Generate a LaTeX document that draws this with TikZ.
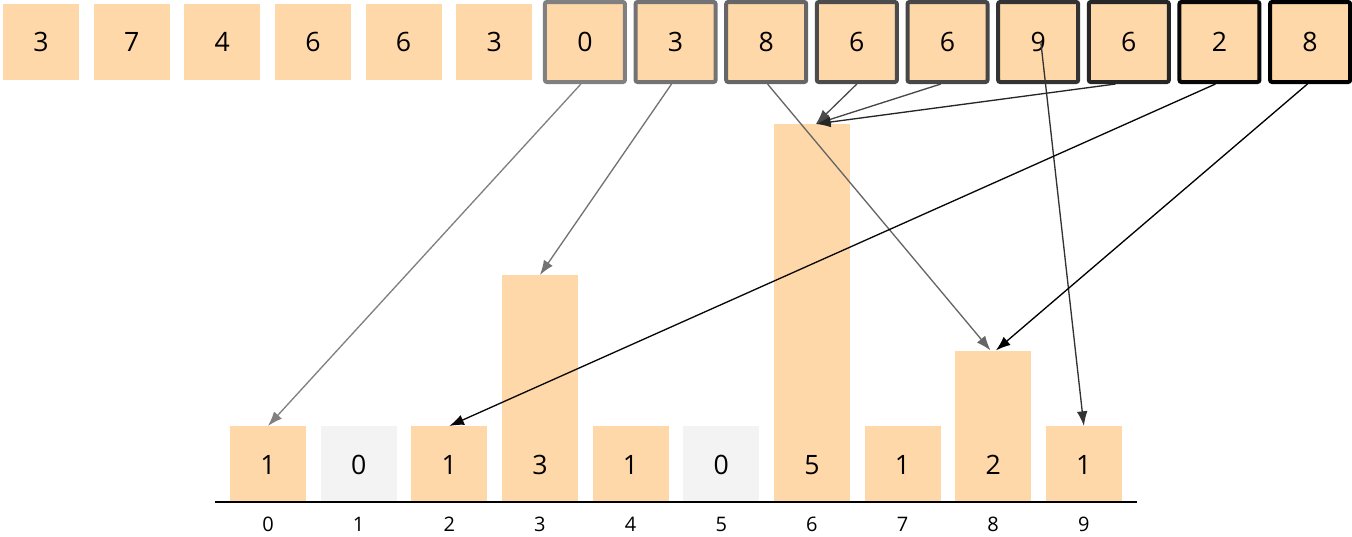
\documentclass[tikz,border=0pt]{standalone}
\usepackage{fontspec}
\setmainfont{Open Sans}
\usetikzlibrary{arrows.meta}
\definecolor{peach}{HTML}{FFD8AA}
\definecolor{empty}{HTML}{F3F3F3}
\begin{document}
\begin{tikzpicture}
        [x=0.75pt, y=-0.75pt,
        cell/.style={fill=peach, minimum width=57pt, minimum height=57pt, inner sep=0pt, font=\fontsize{20}{22}\selectfont},
        marked/.style={cell, draw=#1, line width=3pt, rounded corners=1.5pt, minimum width=60pt, minimum height=60pt},
        bar/.style={fill=#1, minimum width=57pt, inner sep=0pt, anchor=south},
        count/.style={font=\fontsize{20}{22}\selectfont},
        tick/.style={font=\fontsize{15}{17}\selectfont},
        link/.style={draw=#1, line width=1pt, -{Latex[length=11pt, width=8pt]}}]

        \useasboundingbox (0,0) rectangle (1352,536);

        % input row, unmarked part
        \foreach \v [count=\i] in {3,7,4,6,6,3}
            \node[cell] (t\i) at ({41+(\i-1)*90.65},42) {\v};

        % input row, marked part (border darkens to the right)
        \foreach \v/\s [count=\j from 7] in {0/50,3/55,8/60,6/70,6/72,9/80,6/85,2/97,8/100}
            \node[marked=black!\s] (t\j) at ({41+(\j-1)*90.65},42) {\v};

        % counting bars
        \foreach \h/\c [count=\k from 0] in {1/peach,0/empty,1/peach,3/peach,1/peach,0/empty,5/peach,1/peach,2/peach,1/peach} {
            \pgfmathsetmacro\hh{max(\h,1)*75.5*0.75}
            \node[bar=\c, minimum height=\hh pt] (b\k) at ({268+\k*90.65},502) {};
            \node[count] at ({268+\k*90.65},465) {\h};
            \node[tick] (n\k) at ({268+\k*90.65},524) {\k};
        }

        \draw[line width=1.3pt] (215,502) -- (1137,502);

        % arrows from marked cells to bars
        \draw[link=black!50] ([xshift=-3pt]t7.south) -- (b0.north);
        \draw[link=black!55] ([xshift=-3pt]t8.south) -- (b3.north);
        \draw[link=black!60] ([xshift=1pt]t9.south) -- ([xshift=-2pt]b8.north);
        \draw[link=black!70] (t10.south) -- ([xshift=3pt]b6.north);
        \draw[link=black!72] ([xshift=-5pt]t11.south) -- ([xshift=3pt]b6.north);
        \draw[link=black!80] ([xshift=2pt]t12.center) -- (b9.north);
        \draw[link=black!85] ([xshift=-10pt]t13.south) -- ([xshift=3pt]b6.north);
        \draw[link=black!97] ([xshift=-3pt]t14.south) -- (b2.north);
        \draw[link=black] ([xshift=-2pt]t15.south) -- ([xshift=2pt]b8.north);
\end{tikzpicture}
\end{document}
